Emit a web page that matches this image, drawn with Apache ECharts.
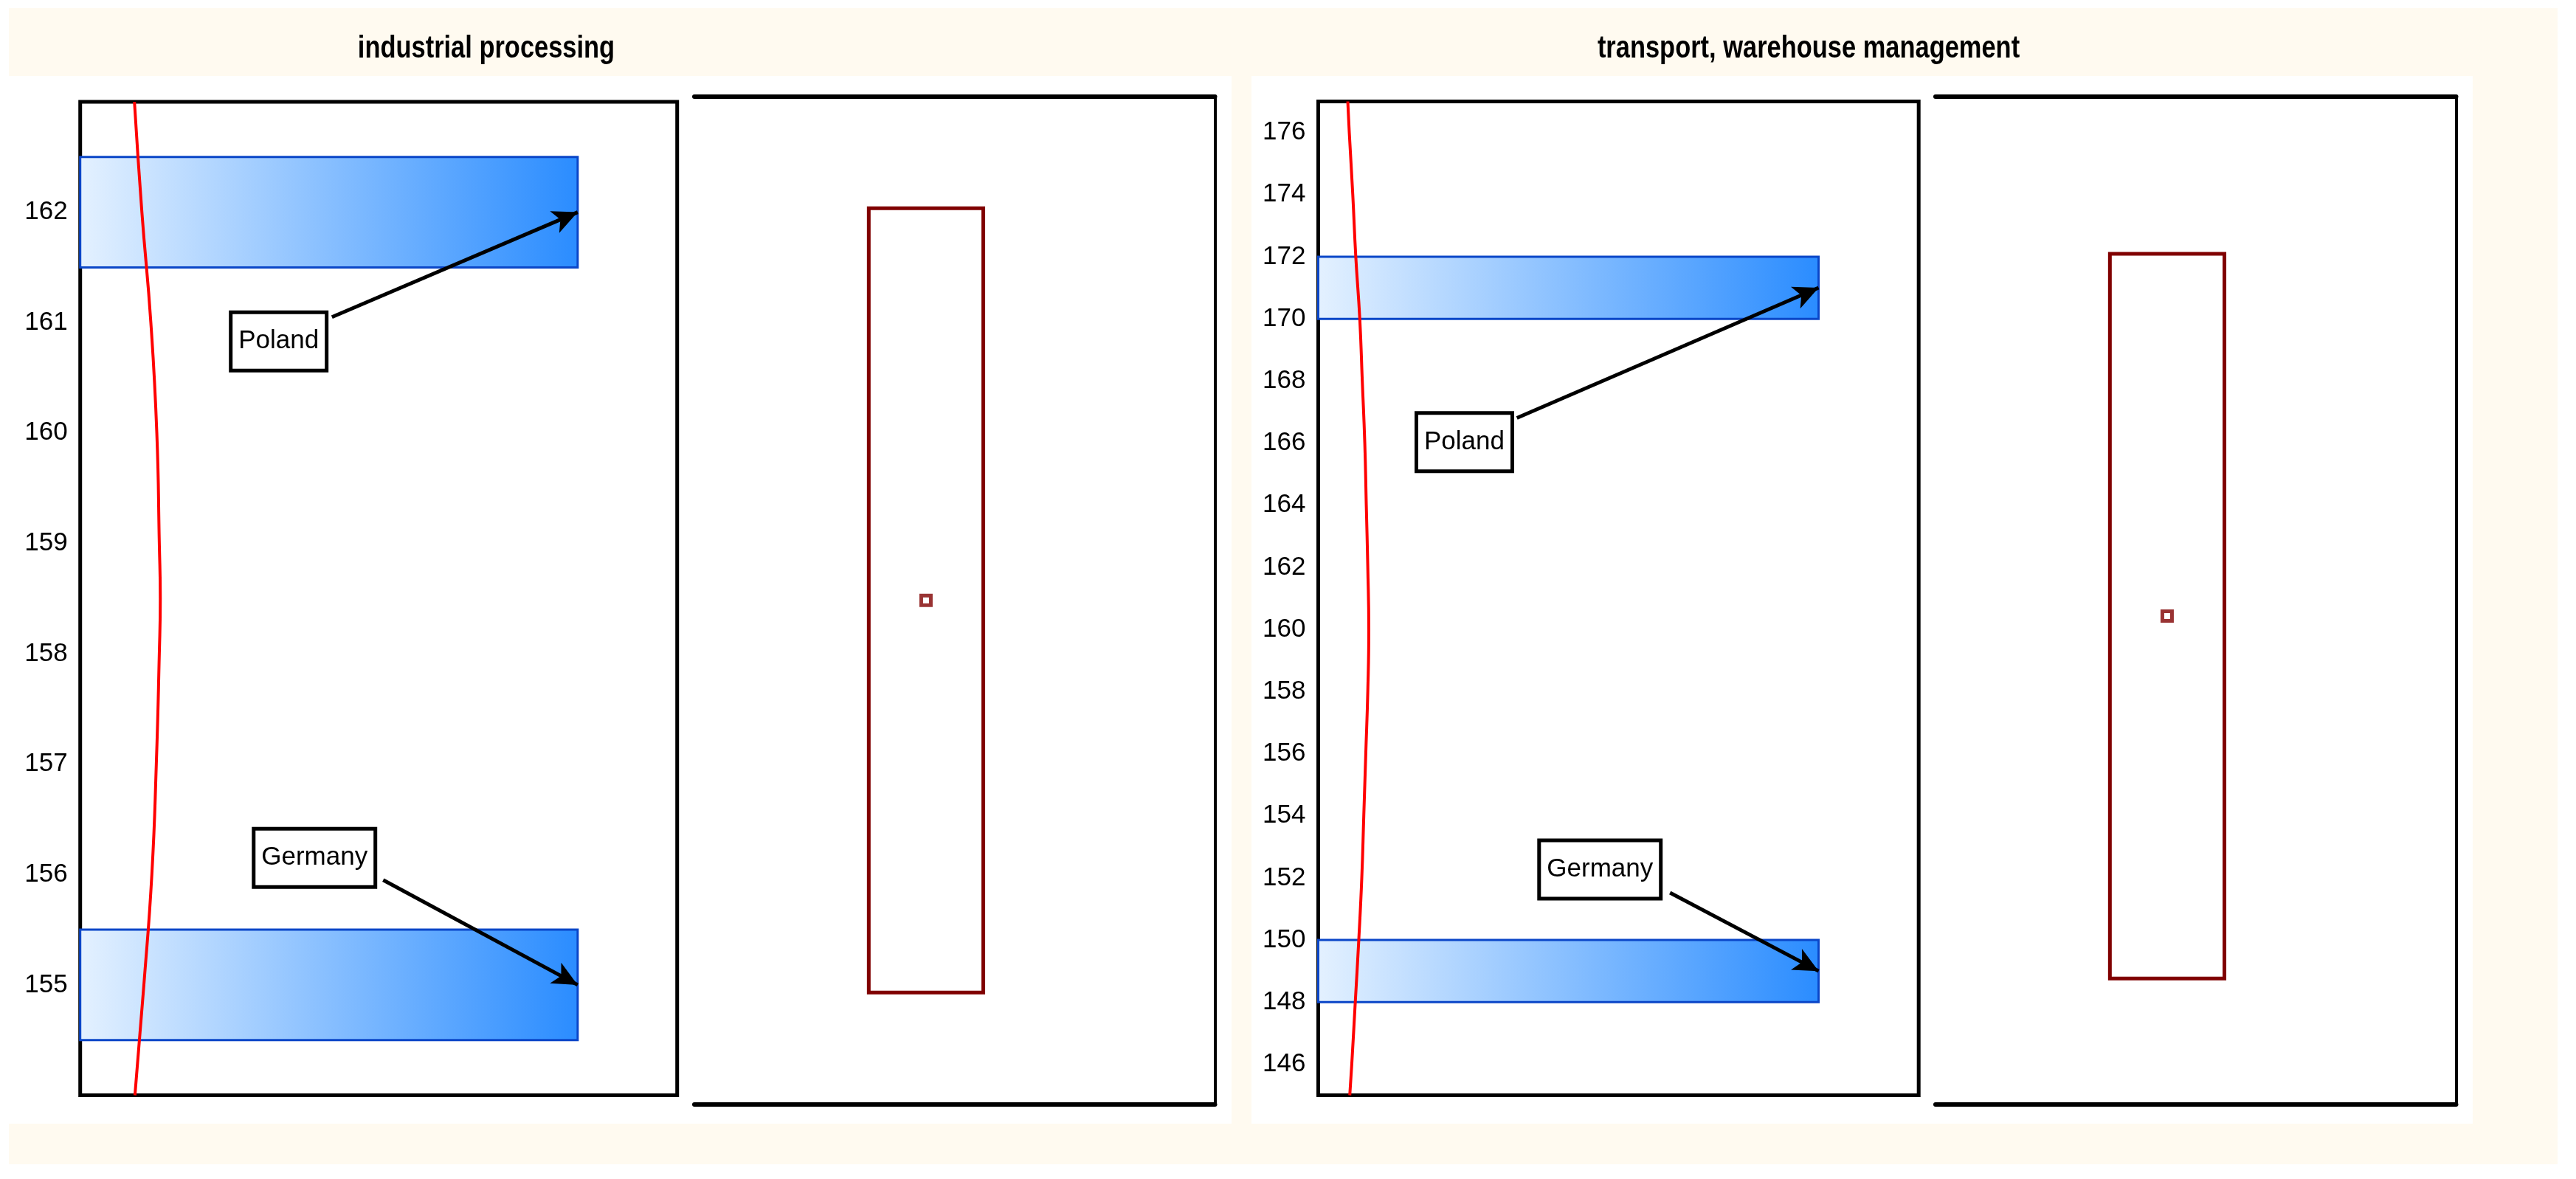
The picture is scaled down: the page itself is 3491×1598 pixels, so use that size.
<!DOCTYPE html>
<html>
<head>
<meta charset="utf-8">
<script src="https://cdn.jsdelivr.net/npm/echarts@6.0.0/dist/echarts.min.js"></script>
<style>
    html, body { margin: 0; padding: 0; background: #fff; }
    #grafico { width: 3491px; height: 1598px; }
</style>
</head>
<body>
<div id="grafico"></div>
<script>
// dados
const titulos = ["industrial processing", "transport, warehouse management"];
const paises = ["Poland", "Germany"];

// industrial processing - histograma (classe inicio/fim, contagem)
const industriaBinInicio = [161.5, 154.5];
const industriaBinFim = [162.5, 155.5];
const industriaContagem = [1, 1];
const industriaTicks = [155, 156, 157, 158, 159, 160, 161, 162];
const industriaFaixa = [154, 163];
// curva normal (vermelha)
const industriaCurvaY = [154, 155, 156, 157, 158, 158.5, 159, 160, 161, 162, 163];
const industriaCurvaX = [0.110, 0.128, 0.144, 0.153, 0.159, 0.161, 0.159, 0.154, 0.142, 0.124, 0.109];

// transport, warehouse management
const transporteBinInicio = [170, 148];
const transporteBinFim = [172, 150];
const transporteContagem = [1, 1];
const transporteTicks = [146, 148, 150, 152, 154, 156, 158, 160, 162, 164, 166, 168, 170, 172, 174, 176];
const transporteFaixa = [145, 177];
const transporteCurvaY = [145, 146, 148, 150, 152, 154, 156, 158, 160, 162, 164, 166, 168, 170, 172, 174, 176, 177];
const transporteCurvaX = [0.063, 0.067, 0.074, 0.081, 0.087, 0.091, 0.095, 0.099, 0.101, 0.099, 0.096, 0.093, 0.088, 0.083, 0.075, 0.069, 0.062, 0.059];

// caixa (min, max, media) por painel
const caixaMin = [155, 149];
const caixaMax = [162, 172];
const caixaMedia = [158.5, 160.5];

// posicao dos rotulos e inicio das setas (coordenadas do grafico)
const posRotulos = [
    [[0.399, 160.83, 0.506, 161.05], [0.471, 156.15, 0.609, 155.95]],
    [[0.292, 166.03, 0.397, 166.81], [0.563, 152.27, 0.703, 151.52]]
];

const fonte = "'Liberation Sans', Arial, sans-serif";
const caixaX = 0.445;
const caixaMeia = 0.11;

var grafico = echarts.init(document.getElementById("grafico"));

function renderBarra(params, api) {
    let topo = api.coord([0, api.value(1)]);
    let base = api.coord([api.value(2), api.value(0)]);
    return {
        type: "rect",
        shape: { x: topo[0], y: topo[1], width: base[0] - topo[0], height: base[1] - topo[1] },
        style: {
            fill: new echarts.graphic.LinearGradient(0, 0, 1, 0, [
                { offset: 0, color: "#e4f1ff" },
                { offset: 1, color: "#2a8cff" }
            ]),
            stroke: "#0a46c8",
            lineWidth: 3
        }
    };
}

function renderCaixa(params, api) {
    let a = api.coord([caixaX - caixaMeia, api.value(1)]);
    let b = api.coord([caixaX + caixaMeia, api.value(0)]);
    return {
        type: "rect",
        shape: { x: a[0], y: a[1], width: b[0] - a[0], height: b[1] - a[1] },
        style: { fill: "none", stroke: "#800000", lineWidth: 5 }
    };
}

function eixoOculto(extra) {
    return Object.assign({
        type: "value",
        axisLabel: { show: false },
        axisTick: { show: false },
        splitLine: { show: false },
        axisLine: { show: false }
    }, extra);
}

function seriesPainel(p, binInicio, binFim, contagem, curvaX, curvaY) {
    let xh = p * 3, yh = p * 2;
    let barras = binInicio.map((v, i) => [v, binFim[i], contagem[i]]);
    let curva = curvaY.map((y, i) => [curvaX[i], y]);
    let rotulos = paises.map((nome, i) => [posRotulos[p][i][0], posRotulos[p][i][1], nome]);
    let setas = paises.map((nome, i) => [
        { coord: [posRotulos[p][i][2], posRotulos[p][i][3]] },
        { coord: [contagem[i], (binInicio[i] + binFim[i]) / 2] }
    ]);

    return [
        {
            type: "custom",
            xAxisIndex: xh, yAxisIndex: yh,
            renderItem: renderBarra,
            encode: { x: 2, y: [0, 1] },
            data: barras,
            z: 2
        },
        {
            type: "line",
            xAxisIndex: xh, yAxisIndex: yh,
            data: curva,
            smooth: true,
            showSymbol: false,
            lineStyle: { color: "#ff0000", width: 4 },
            z: 3
        },
        {
            type: "scatter",
            xAxisIndex: xh, yAxisIndex: yh,
            data: rotulos,
            symbolSize: 0,
            itemStyle: { color: "#fff" },
            emphasis: { disabled: true },
            label: {
                show: true,
                position: "inside",
                formatter: (d) => d.data[2],
                color: "#000",
                opacity: 1,
                textBorderWidth: 0,
                fontSize: 35,
                fontFamily: fonte,
                lineHeight: 40,
                backgroundColor: "#fff",
                borderColor: "#000",
                borderWidth: 5,
                padding: [12, 8, 22, 8]
            },
            markLine: {
                silent: true,
                symbol: ["none", "arrow"],
                symbolSize: [24, 34],
                lineStyle: { color: "#000", width: 5, type: "solid" },
                label: { show: false },
                data: setas
            },
            z: 5
        },
        {
            type: "custom",
            xAxisIndex: xh + 1, yAxisIndex: yh + 1,
            renderItem: renderCaixa,
            encode: { y: [0, 1] },
            data: [[caixaMin[p], caixaMax[p]]]
        },
        {
            type: "scatter",
            xAxisIndex: xh + 1, yAxisIndex: yh + 1,
            data: [[caixaX, caixaMedia[p]]],
            symbol: "rect",
            symbolSize: 13,
            itemStyle: { color: "#fff", borderColor: "#800000", borderWidth: 5 }
        }
    ];
}

function eixosPainel(p, faixa, ticks) {
    let g = p * 2;
    let xs = [
        eixoOculto({ gridIndex: g, min: 0, max: 1.2 }),
        eixoOculto({ gridIndex: g + 1, min: 0, max: 1, position: "bottom",
            axisLine: { show: true, onZero: false, lineStyle: { color: "#000", width: 6 } } }),
        eixoOculto({ gridIndex: g + 1, min: 0, max: 1, position: "top",
            axisLine: { show: true, onZero: false, lineStyle: { color: "#000", width: 6 } } })
    ];
    let ys = [
        eixoOculto({
            gridIndex: g, min: faixa[0], max: faixa[1],
            axisLabel: {
                show: true,
                customValues: ticks,
                color: "#000",
                fontSize: 35,
                fontFamily: fonte,
                margin: 17
            }
        }),
        eixoOculto({ gridIndex: g + 1, min: faixa[0], max: faixa[1], position: "right",
            axisLine: { show: true, onZero: false, lineStyle: { color: "#000", width: 4 } } })
    ];
    return { xs, ys };
}

let eixosA = eixosPainel(0, industriaFaixa, industriaTicks);
let eixosB = eixosPainel(1, transporteFaixa, transporteTicks);

let estiloTitulo = { fill: "#000", fontSize: 42, fontWeight: "bold", fontFamily: fonte, align: "center", verticalAlign: "middle" };

let option = {
    animation: false,
    backgroundColor: "#fff",
    textStyle: { fontFamily: fonte },
    graphic: [
        { type: "rect", z: -10, shape: { x: 12, y: 11, width: 3454, height: 1567 }, style: { fill: "#fffaf0" } },
        { type: "rect", z: -9, shape: { x: 12, y: 103, width: 1657, height: 1420 }, style: { fill: "#fff" } },
        { type: "rect", z: -9, shape: { x: 1696, y: 103, width: 1655, height: 1420 }, style: { fill: "#fff" } },
        { type: "text", x: 659, y: 66, scaleX: 0.82, style: Object.assign({ text: titulos[0] }, estiloTitulo) },
        { type: "text", x: 2451, y: 66, scaleX: 0.82, style: Object.assign({ text: titulos[1] }, estiloTitulo) }
    ],
    grid: [
        { left: 108.7, top: 138, width: 809, height: 1346.5, show: true, borderColor: "#000", borderWidth: 5, outerBoundsMode: "none", containLabel: false },
        { left: 941, top: 130.5, width: 705.5, height: 1366.5, outerBoundsMode: "none", containLabel: false },
        { left: 1786.5, top: 137.5, width: 813.7, height: 1347, show: true, borderColor: "#000", borderWidth: 5, outerBoundsMode: "none", containLabel: false },
        { left: 2623, top: 130.5, width: 705.5, height: 1366.5, outerBoundsMode: "none", containLabel: false }
    ],
    xAxis: eixosA.xs.concat(eixosB.xs),
    yAxis: eixosA.ys.concat(eixosB.ys),
    series: seriesPainel(0, industriaBinInicio, industriaBinFim, industriaContagem, industriaCurvaX, industriaCurvaY)
        .concat(seriesPainel(1, transporteBinInicio, transporteBinFim, transporteContagem, transporteCurvaX, transporteCurvaY))
};

grafico.setOption(option);
</script>
</body>
</html>
